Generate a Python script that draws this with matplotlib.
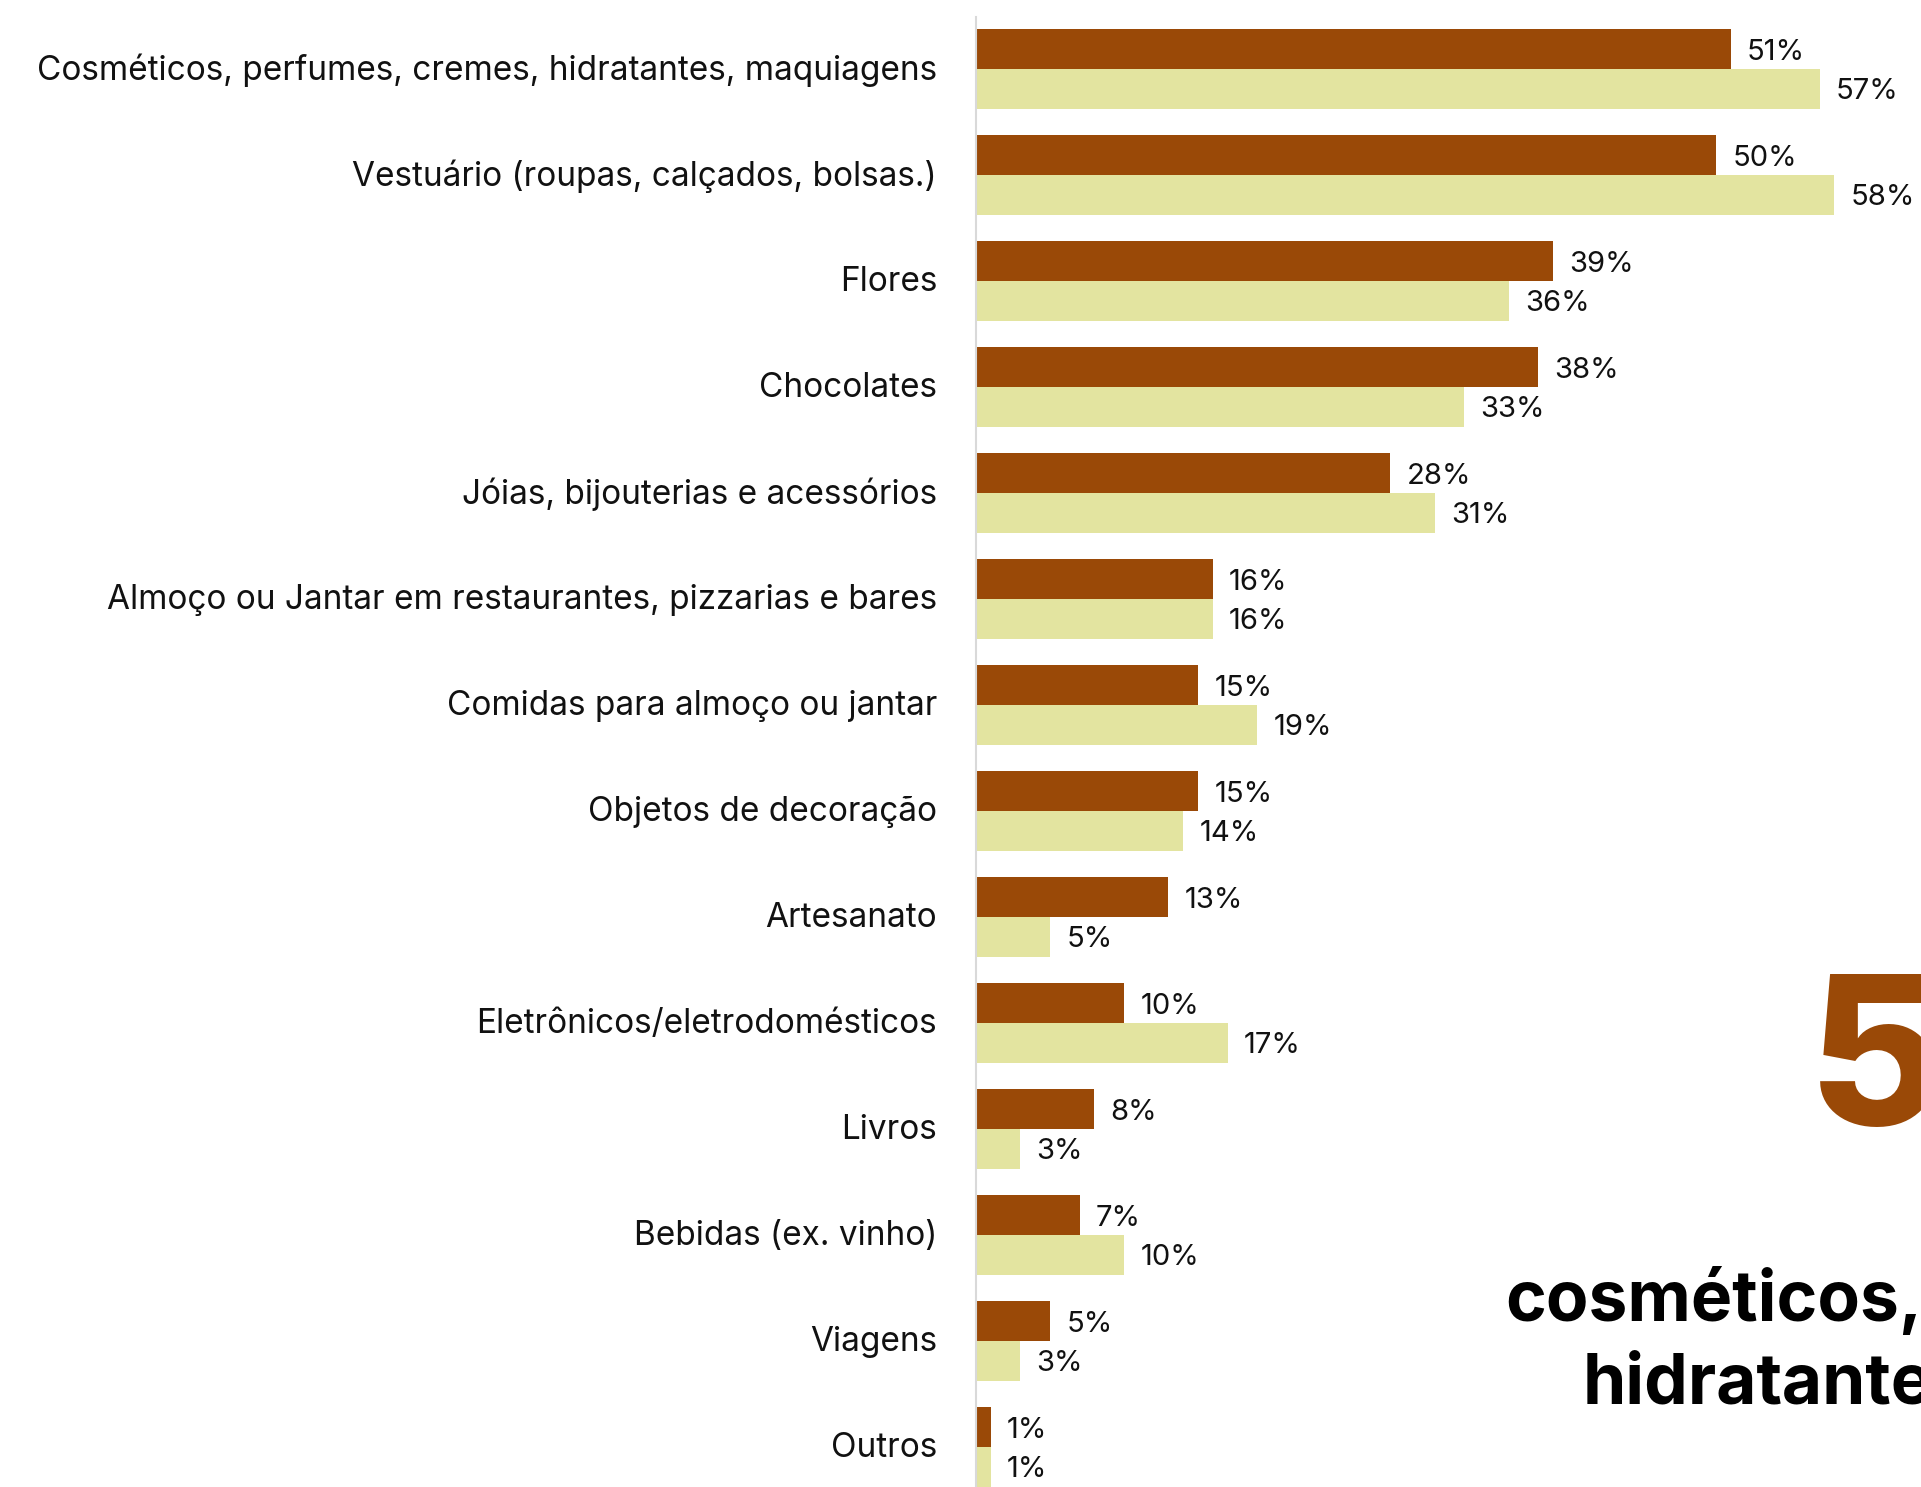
import matplotlib.pyplot as plt
from matplotlib.transforms import ScaledTranslation

categories = [
    "Cosméticos, perfumes, cremes, hidratantes, maquiagens",
    "Vestuário (roupas, calçados, bolsas.)",
    "Flores",
    "Chocolates",
    "Jóias, bijouterias e acessórios",
    "Almoço ou Jantar em restaurantes, pizzarias e bares",
    "Comidas para almoço ou jantar",
    "Objetos de decoração",
    "Artesanato",
    "Eletrônicos/eletrodomésticos",
    "Livros",
    "Bebidas (ex. vinho)",
    "Viagens",
    "Outros",
]
serie_a = [51, 50, 39, 38, 28, 16, 15, 15, 13, 10, 8, 7, 5, 1]
serie_b = [57, 58, 36, 33, 31, 16, 19, 14, 5, 17, 3, 10, 3, 1]

# destaque à direita, cortado pela borda da imagem original
destaque_valor = "5"
destaque_texto = ["cosméticos,", "hidratante"]

cor_a = "#9a4907"
cor_b = "#e3e4a0"

plt.rcParams["font.family"] = ["Inter", "DejaVu Sans"]

W, H = 1921, 1487
fig = plt.figure(figsize=(W / 100, H / 100), dpi=100)

# eixo: lombada em x=976px, topo em y=17px
ax = fig.add_axes([976 / W, 0, (W - 976) / W, (H - 17) / H])
ax.set_xlim(0, (W - 976) / 14.8)
n = len(categories)
ax.set_ylim(n - 1 + 40 / 106, -52 / 106)

h = 0.373
ys = list(range(n))
ax.barh([y - h / 2 for y in ys], serie_a, height=h, color=cor_a)
ax.barh([y + h / 2 for y in ys], serie_b, height=h, color=cor_b)

for y, a, b in zip(ys, serie_a, serie_b):
    ax.text(a + 1.1, y - h / 2 + 0.03, f"{a}%", va="center", ha="left", fontsize=21, color="#111111")
    ax.text(b + 1.1, y + h / 2 + 0.03, f"{b}%", va="center", ha="left", fontsize=21, color="#111111")

ax.set_yticks(ys)
ax.set_yticklabels(categories, fontsize=24, color="#111111")
ax.tick_params(axis="y", length=0, pad=28)
shift = ScaledTranslation(0, 0.02, fig.dpi_scale_trans)
for lbl in ax.get_yticklabels():
    lbl.set_transform(lbl.get_transform() + shift)
ax.set_xticks([])
for s in ["top", "right", "bottom"]:
    ax.spines[s].set_visible(False)
ax.spines["left"].set_color("#d9d9d9")
ax.spines["left"].set_linewidth(1.5)

fig.text(1808 / W, 1 - 1125 / H, destaque_valor, ha="left", va="baseline",
         fontsize=150, fontweight="heavy", color=cor_a)
fig.text(1505 / W, 1 - 1321 / H, destaque_texto[0], ha="left", va="baseline",
         fontsize=50, fontweight="bold", color="black")
fig.text(1583 / W, 1 - 1403 / H, destaque_texto[1], ha="left", va="baseline",
         fontsize=50, fontweight="bold", color="black")

fig.savefig("out.png", dpi=100)
